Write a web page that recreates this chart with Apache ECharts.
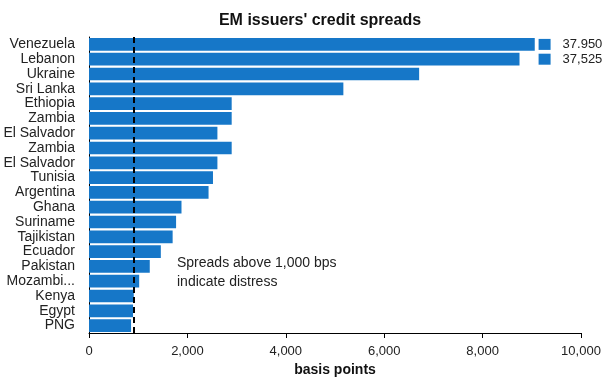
<!DOCTYPE html>
<html>
<head>
<meta charset="utf-8">
<script src="https://cdn.jsdelivr.net/npm/echarts@6/dist/echarts.min.js"></script>
<style>
  html, body { margin: 0; padding: 0; background: #fff; }
  #chart { width: 606px; height: 379px; }
</style>
</head>
<body>
<div id="chart"></div>
<script>
const countries = ['Venezuela', 'Lebanon', 'Ukraine', 'Sri Lanka', 'Ethiopia', 'Zambia', 'El Salvador',
  'Zambia ', 'El Salvador ', 'Tunisia', 'Argentina', 'Ghana', 'Suriname', 'Tajikistan', 'Ecuador',
  'Pakistan', 'Mozambi...', 'Kenya', 'Egypt', 'PNG']
// bar lengths as drawn (the top two are cut off at the axis end)
const spreads = [9060, 8750, 6710, 5170, 2900, 2900, 2610, 2900, 2610, 2520, 2430, 1880, 1770, 1700,
  1460, 1235, 1020, 910, 895, 855]
// off-scale markers for the cut bars
const breakCountries = ['Venezuela', 'Lebanon']
const breakLabels = ['37.950', '37,525']
const breakPos = 9260
const distressLine = 910
const xTicks = [0, 2000, 4000, 6000, 8000, 10000]

const font = "'Liberation Sans', Arial, sans-serif"

const chart = echarts.init(document.getElementById('chart'))
const option = {
  animation: false,
  title: {
    text: "EM issuers' credit spreads",
    left: 315,
    textAlign: 'center',
    top: 8,
    textStyle: { fontFamily: font, fontSize: 16, fontWeight: 'bold', color: '#111' }
  },
  grid: { left: 89, right: 25, top: 37, bottom: 46, outerBoundsMode: 'none' },
  xAxis: {
    type: 'value',
    min: xTicks[0],
    max: xTicks[xTicks.length - 1],
    interval: 2000,
    name: 'basis points',
    nameLocation: 'middle',
    nameGap: 29,
    nameTextStyle: { fontFamily: font, fontSize: 14, fontWeight: 'bold', color: '#111' },
    axisLine: { show: true, lineStyle: { color: '#000', width: 1 } },
    axisTick: { show: true, length: 5, lineStyle: { color: '#000' } },
    splitLine: { show: false },
    axisLabel: {
      fontFamily: font, fontSize: 13, color: '#222', margin: 12,
      formatter: v => v.toLocaleString('en-US')
    }
  },
  yAxis: {
    type: 'category',
    inverse: true,
    data: countries,
    axisLine: { show: true, lineStyle: { color: '#000', width: 1 } },
    axisTick: { show: false },
    axisLabel: {
      fontFamily: font, fontSize: 14, color: '#222', margin: 14, interval: 0,
      formatter: v => v.trim()
    }
  },
  series: [
    {
      type: 'bar',
      data: spreads,
      barCategoryGap: '14%',
      itemStyle: { color: '#1677c8' },
      markLine: {
        silent: true,
        symbol: 'none',
        label: { show: false },
        lineStyle: { color: '#000', type: [6, 4], width: 2 },
        data: [{ xAxis: distressLine }]
      }
    },
    {
      type: 'scatter',
      symbol: 'rect',
      symbolSize: [12, 11],
      itemStyle: { color: '#1677c8', opacity: 1 },
      data: breakCountries.map((c, i) => ({ value: [breakPos, c], name: breakLabels[i] })),
      label: {
        show: true,
        position: 'right',
        distance: 12,
        formatter: p => p.name,
        fontFamily: font, fontSize: 13, color: '#222'
      }
    }
  ],
  graphic: [
    {
      type: 'text',
      left: 177,
      top: 254,
      style: {
        text: 'Spreads above 1,000 bps\nindicate distress',
        font: '14px ' + font,
        fill: '#222',
        lineHeight: 19
      }
    }
  ]
}
chart.setOption(option)
</script>
</body>
</html>
